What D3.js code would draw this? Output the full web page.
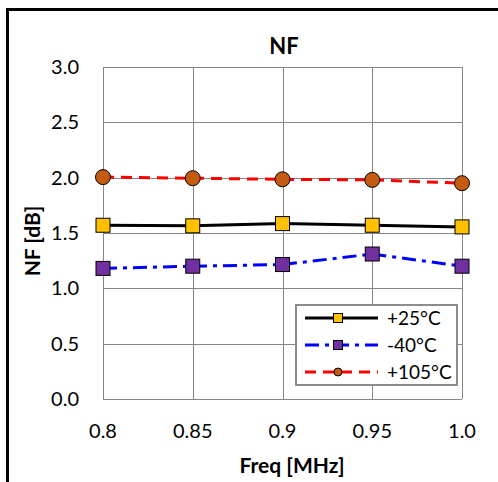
<!DOCTYPE html>
<html>
<head>
<meta charset="utf-8">
<script src="https://cdn.jsdelivr.net/npm/d3@7"></script>
<style>
  body { margin: 0; background: #fff; }
  text { font-family: Lato, "Open Sans", sans-serif; fill: #000; }
</style>
</head>
<body>
<script>
// data
var freqs = [0.8, 0.85, 0.9, 0.95, 1.0];
var nf25 = [1.57, 1.565, 1.585, 1.57, 1.555];
var nfMinus40 = [1.18, 1.20, 1.215, 1.31, 1.20];
var nf105 = [2.005, 1.995, 1.985, 1.98, 1.95];
var xTicks = ["0.8", "0.85", "0.9", "0.95", "1.0"];
var yTicks = [0, 0.5, 1, 1.5, 2, 2.5, 3];

var series = [
  { name: "+25°C", values: nf25, color: "#000", dash: null, marker: "square", fill: "#FFC000" },
  { name: "-40°C", values: nfMinus40, color: "#0000ff", dash: "14,6,4,6", marker: "square", fill: "#7030A0" },
  { name: "+105°C", values: nf105, color: "#ff0000", dash: "11,7", marker: "circle", fill: "#C55A11" }
];

var svgWidth = 498, svgHeight = 482;
var plot = { left: 103, right: 462, top: 67, bottom: 399 };

var svg = d3.select("body").append("svg")
  .attr("width", svgWidth)
  .attr("height", svgHeight);

// outer frame
svg.append("rect")
  .attr("x", 7.5).attr("y", 9.5)
  .attr("width", 520).attr("height", 520)
  .attr("fill", "none").attr("stroke", "#000").attr("stroke-width", 3);

var x = d3.scaleLinear().domain([0.8, 1.0]).range([plot.left, plot.right]);
var y = d3.scaleLinear().domain([0, 3]).range([plot.bottom, plot.top]);

// gridlines
svg.append("g").selectAll("line.v")
  .data(freqs).enter().append("line")
  .attr("x1", d => Math.round(x(d)) + 0.5).attr("x2", d => Math.round(x(d)) + 0.5)
  .attr("y1", plot.top).attr("y2", plot.bottom)
  .attr("stroke", "#868686").attr("stroke-width", 1);

svg.append("g").selectAll("line.h")
  .data(yTicks).enter().append("line")
  .attr("y1", d => Math.round(y(d)) + 0.5).attr("y2", d => Math.round(y(d)) + 0.5)
  .attr("x1", plot.left).attr("x2", plot.right)
  .attr("stroke", "#868686").attr("stroke-width", 1);

// y tick labels
svg.append("g").selectAll("text")
  .data(yTicks).enter().append("text")
  .attr("x", 79).attr("y", d => y(d) + 7)
  .attr("text-anchor", "end")
  .style("font-size", "20px")
  .text(d => d3.format(".1f")(d));

// x tick labels
svg.append("g").selectAll("text")
  .data(freqs).enter().append("text")
  .attr("x", d => x(d)).attr("y", 438)
  .attr("text-anchor", "middle")
  .style("font-size", "20px")
  .text((d, i) => xTicks[i]);

// titles
svg.append("text").attr("x", 284).attr("y", 54)
  .attr("text-anchor", "middle").style("font-size", "22px").style("font-weight", "bold")
  .text("NF");
svg.append("text").attr("x", 292).attr("y", 473)
  .attr("text-anchor", "middle").style("font-size", "21px").style("font-weight", "bold")
  .text("Freq [MHz]");
svg.append("text")
  .attr("transform", "translate(40, 241) rotate(-90)")
  .attr("text-anchor", "middle").style("font-size", "21px").style("font-weight", "bold")
  .text("NF [dB]");

// lines
var line = d3.line().x((d, i) => x(freqs[i])).y(d => y(d));

series.forEach(function(s) {
  svg.append("path")
    .attr("d", line(s.values))
    .attr("fill", "none")
    .attr("stroke", s.color)
    .attr("stroke-width", 3)
    .attr("stroke-dasharray", s.dash);
});

function drawMarker(g, s, cx, cy, size) {
  if (s.marker === "square") {
    g.append("rect")
      .attr("x", cx - size / 2).attr("y", cy - size / 2)
      .attr("width", size).attr("height", size)
      .attr("fill", s.fill).attr("stroke", "#000").attr("stroke-width", 1);
  } else {
    g.append("circle")
      .attr("cx", cx).attr("cy", cy).attr("r", size / 2)
      .attr("fill", s.fill).attr("stroke", "#000").attr("stroke-width", 1);
  }
}

series.forEach(function(s) {
  var g = svg.append("g");
  s.values.forEach(function(v, i) {
    drawMarker(g, s, x(freqs[i]), y(v), s.marker === "square" ? 14 : 15);
  });
});

// legend
var legend = svg.append("g");
legend.append("rect")
  .attr("x", 296).attr("y", 305)
  .attr("width", 161).attr("height", 80)
  .attr("fill", "#fff").attr("stroke", "#8c8c8c").attr("stroke-width", 2);

series.forEach(function(s, i) {
  var ly = 318 + i * 27;
  legend.append("line")
    .attr("x1", 305).attr("x2", 378)
    .attr("y1", ly).attr("y2", ly)
    .attr("stroke", s.color).attr("stroke-width", 3)
    .attr("stroke-dasharray", s.dash);
  drawMarker(legend, s, 338, ly, s.marker === "square" ? 9 : 8);
  legend.append("text")
    .attr("x", 387).attr("y", ly + 7)
    .style("font-size", "19px")
    .text(s.name);
});
</script>
</body>
</html>
